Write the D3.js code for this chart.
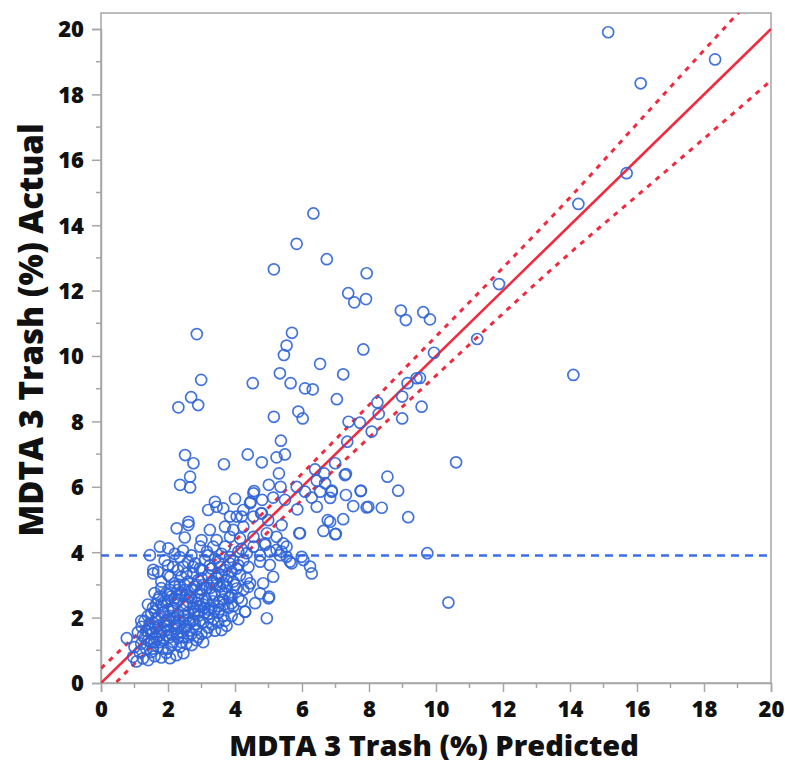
<!DOCTYPE html>
<html>
<head>
<meta charset="utf-8">
<script src="https://cdn.jsdelivr.net/npm/d3@7"></script>
<style>
  body { margin: 0; background: #fff; }
  text { font-family: "Open Sans", "DejaVu Sans", sans-serif; font-weight: 700; fill: #111; }
</style>
</head>
<body>
<script>
// axis ticks
const xTicks = [0, 2, 4, 6, 8, 10, 12, 14, 16, 18, 20];
const yTicks = [0, 2, 4, 6, 8, 10, 12, 14, 16, 18, 20];
const xTitle = "MDTA 3 Trash (%) Predicted";
const yTitle = "MDTA 3 Trash (%) Actual";

// mean of actual (blue dashed line)
const meanActual = 3.9;

// confidence band half width along the fit line
const bandX = [0, 2, 4, 6, 8, 10, 12, 14, 16, 18, 20];
const bandHalf = [0.45, 0.38, 0.35, 0.4, 0.5, 0.6, 0.7, 0.85, 1.1, 1.35, 1.58];

// points far from the dense cluster [predicted, actual]
const outerPoints = [
  [15.14,19.90],[18.33,19.07],[16.11,18.34],[15.69,15.59],[14.25,14.65],[11.88,12.20],
  [9.62,11.34],[9.82,11.12],[11.23,10.52],[9.94,10.10],[14.10,9.42],[9.52,9.33],[9.57,8.45],
  [6.34,14.36],[5.84,13.43],[6.74,12.96],[5.16,12.65],[7.93,12.53],[7.38,11.92],[7.56,11.64],
  [7.91,11.74],[8.95,11.39],[9.10,11.10],[7.83,10.20],[2.86,10.67],[5.70,10.71],[5.54,10.32],
  [5.46,10.03],[6.54,9.76],[7.23,9.44],[2.99,9.27],[4.53,9.17],[5.34,9.47],[5.66,9.17],
  [6.09,9.01],[6.32,8.98],[7.04,8.68],[9.15,9.17],[9.42,9.32],[8.99,8.76],[2.69,8.74],
  [2.31,8.43],[2.90,8.50],[5.16,8.14],[5.89,8.30],[6.02,8.09],[8.25,8.58],[8.29,8.23],
  [8.99,8.09],[7.73,7.96],[7.39,7.99],[8.08,7.69],[7.35,7.38],[5.37,7.41],[10.60,6.75],
  [9.74,3.97],[10.37,2.46],[9.17,5.07],[8.87,5.88],[8.55,6.31],[8.38,5.36],[7.98,5.39],
  [7.53,5.41],[7.75,5.87],[7.31,5.75],[7.31,6.39],[6.99,6.72],[7.23,5.01],[7.01,4.56],
  [6.84,4.93],[6.89,5.85],[6.84,5.66]
];

// mid range points [predicted, actual]
const midPoints = [
  [4.38,6.99],[3.67,6.69],[4.80,6.75],[5.24,6.90],[5.49,6.99],[5.31,6.41],[6.39,6.53],
  [6.66,6.41],[7.28,6.36],[5.01,6.06],[5.36,6.00],[5.84,6.00],[6.09,5.85],[6.44,6.19],
  [6.69,6.11],[4.57,5.87],[4.81,5.60],[5.14,5.67],[3.40,5.54],[4.00,5.63],[4.47,5.54],
  [5.49,5.60],[6.54,5.85],[6.29,5.67],[6.89,5.88],[7.76,5.88],[7.93,5.37],[6.44,5.39],
  [5.86,5.31],[3.20,5.29],[3.65,5.34],[4.25,5.29],[4.55,5.09],[3.85,5.09],[4.05,5.09],
  [4.78,5.19],[4.99,4.98],[5.39,4.83],[5.92,4.58],[6.77,4.98],[6.64,4.65],[6.99,4.55],
  [3.25,4.68],[3.70,4.78],[3.95,4.68],[4.25,4.78],[3.45,4.37],[3.85,4.47],[4.15,4.42],
  [4.55,4.47],[4.95,4.58],[5.24,4.47],[5.44,4.27],[4.90,4.22],[4.55,4.17],[5.64,3.71],
  [5.99,3.86],[6.24,3.56],[6.04,3.76],[6.29,3.35],[5.94,4.58],[5.54,4.17],[4.90,4.27],
  [5.39,4.02],[4.35,3.97],[4.10,4.02],[3.70,4.17],[3.35,4.17],[3.16,4.02],[3.00,4.37],
  [2.51,6.97],[2.76,6.72],[2.66,6.31],[2.36,6.06],[2.66,5.98],[4.55,5.80],[4.45,5.50],
  [2.26,4.73],[2.61,4.83],[2.61,4.93],[3.45,5.39],[4.20,5.09],[4.80,5.19],[2.50,4.45],
  [4.95,1.98],[4.60,2.44],[4.30,2.18],[3.90,2.44],[4.05,2.89],[4.40,2.94],[5.69,3.66]
];

// dense cluster [predicted, actual]
const clusterPoints = [
  [0.96,0.80],[1.06,0.66],[1.25,0.75],[1.41,0.70],[1.60,0.82],[1.80,0.78],[2.06,0.76],[2.25,0.85],
  [2.46,0.91],[1.15,0.95],[1.50,0.95],[1.95,0.92],
  [0.77,1.37],[1.00,1.10],[1.20,1.20],[1.35,1.05],[1.50,1.25],[1.70,1.10],[1.85,1.30],[2.00,1.05],
  [2.15,1.25],[2.36,1.11],[2.55,1.20],[2.71,1.16],[2.85,1.31],[3.05,1.25],[1.30,1.38],[1.65,1.35],
  [2.30,1.38],[2.60,1.40],
  [1.10,1.55],[1.21,1.72],[1.35,1.60],[1.50,1.50],[1.62,1.70],[1.80,1.55],[1.95,1.75],[2.10,1.50],
  [2.25,1.65],[2.40,1.55],[2.55,1.75],[2.70,1.50],[2.85,1.65],[3.00,1.50],[3.20,1.70],[3.40,1.60],
  [3.60,1.62],[3.75,1.75],[1.45,1.80],[2.00,1.62],
  [1.20,1.90],[1.40,2.05],[1.55,1.85],[1.70,2.00],[1.85,2.15],[1.95,1.90],[2.05,2.05],[2.20,1.85],
  [2.30,2.10],[2.45,1.95],[2.60,2.15],[2.75,1.90],[2.90,2.05],[3.05,1.85],[3.20,2.10],[3.35,1.95],
  [3.50,2.15],[3.70,1.90],[3.90,2.05],[4.10,1.95],[4.30,2.18],[1.60,2.20],[2.15,2.20],
  [1.40,2.40],[1.55,2.30],[1.70,2.55],[1.85,2.35],[2.00,2.50],[2.15,2.30],[2.30,2.55],[2.45,2.35],
  [2.60,2.50],[2.75,2.30],[2.90,2.55],[3.05,2.40],[3.20,2.25],[3.35,2.50],[3.50,2.35],[3.65,2.55],
  [3.80,2.30],[4.20,2.50],
  [1.60,2.75],[1.80,2.90],[2.00,2.70],[2.20,2.95],[2.35,2.70],[2.50,2.85],[2.65,2.65],[2.80,2.95],
  [2.95,2.75],[3.10,2.60],[3.25,2.90],[3.40,2.70],[3.55,2.95],[3.70,2.75],[3.85,2.62],[4.75,2.74],
  [5.00,2.59],[5.02,2.64],
  [1.80,3.10],[2.00,3.30],[2.20,3.05],[2.40,3.25],[2.60,3.10],[2.75,3.35],[2.90,3.15],[3.05,3.00],
  [3.20,3.30],[3.35,3.10],[3.50,3.35],[3.65,3.05],[3.80,3.25],[3.95,3.10],[4.15,3.30],[4.45,3.05],
  [4.84,3.05],[5.14,3.25],[1.56,3.35],
  [1.56,3.46],[2.06,3.25],[2.00,3.60],[2.30,3.45],[2.46,3.56],[2.60,3.70],[2.81,3.66],[2.95,3.50],
  [3.10,3.75],[3.30,3.50],[3.50,3.70],[3.70,3.45],[3.85,3.65],[4.05,3.50],[4.25,3.75],[4.40,3.55],
  [4.75,3.71],[5.04,3.61],
  [1.46,3.91],[1.76,4.17],[2.01,4.12],[2.20,3.95],[2.45,4.05],[2.70,3.90],[2.96,4.17],[3.60,3.95],
  [3.85,3.85],[4.75,3.90],[5.04,4.02],[5.34,3.91],[5.54,3.86],[5.24,4.07],
  [1.75,1.45],[1.90,1.60],[2.05,1.40],[2.20,1.75],[2.35,1.90],[2.50,1.65],[2.65,1.85],[2.80,2.20],
  [2.95,2.35],[3.10,2.15],[1.65,1.95],[1.80,2.40],[2.00,2.25],[2.10,2.65],[2.25,2.45],[2.40,2.75],
  [2.55,2.40],[2.70,2.60],[2.85,2.45],[3.00,2.85],[3.15,2.50],[3.30,2.70],[3.45,3.00],[3.60,2.80],
  [3.75,3.15],[3.00,3.45],[3.25,3.60],[2.50,3.00],[2.30,2.85],[1.95,2.75],[1.45,1.65],[1.30,1.90],
  [1.60,1.25],[1.85,1.05],[2.40,1.25],[2.95,1.90],[3.30,2.30],[3.55,2.25],[3.90,2.70],[4.00,3.00],
  [1.55,1.55],[1.70,1.75],[1.88,1.85],[2.02,1.95],[2.18,2.00],[2.32,1.75],[2.48,2.05],[2.62,1.95],
  [2.78,2.10],[2.92,2.20],[3.08,2.30],[3.22,2.00],[3.38,2.20],[3.52,2.50],[3.68,2.40],[3.82,2.60],
  [3.95,2.35],[4.10,2.60],[4.25,2.85],[4.35,3.20],
  [1.50,2.10],[1.65,2.40],[1.75,2.65],[1.90,2.50],[2.05,2.85],[2.20,2.60],[2.35,3.00],[2.55,2.70],
  [2.70,2.85],[2.85,3.00],[3.00,3.20],[3.15,2.90],[3.30,3.05],[3.45,3.20],[3.60,3.30],[3.75,2.95],
  [3.90,3.40],[4.10,3.60],
  [1.25,1.45],[1.40,1.30],[1.55,1.05],[1.75,1.25],[1.95,1.45],[2.10,1.15],[2.28,1.50],[2.45,1.40],
  [2.62,1.60],[2.80,1.80],[2.90,1.40],[3.15,1.55],[3.30,1.80],[3.50,1.85],[3.65,2.05],
  [1.70,3.40],[1.90,3.75],[2.15,3.55],[2.35,3.85],[2.55,3.35],[2.75,3.55],[3.20,3.90],[3.40,3.80],
  [3.55,3.55],[3.95,3.75],[4.20,4.10]
];

const allPoints = outerPoints.concat(midPoints, clusterPoints);

const W = 785, H = 765;
const mLeft = 101, mRight = 771, mTop = 13, mBottom = 683;

const x = d3.scaleLinear().domain([0, 20]).range([mLeft, mRight]);
// 20 sits at y=29, the frame goes a bit above
const y = d3.scaleLinear().domain([0, 20]).range([mBottom, 29]);

const svg = d3.select("body").append("svg")
  .attr("width", W)
  .attr("height", H);

svg.append("defs").append("clipPath").attr("id", "plotClip")
  .append("rect")
  .attr("x", mLeft).attr("y", mTop)
  .attr("width", mRight - mLeft).attr("height", mBottom - mTop);

const gray = "#a6a6a6";

// frame
svg.append("rect")
  .attr("x", mLeft).attr("y", mTop)
  .attr("width", mRight - mLeft).attr("height", mBottom - mTop)
  .attr("fill", "none")
  .attr("stroke", gray)
  .attr("stroke-width", 1.5);

// minor ticks (odd values)
const minor = d3.range(1, 20, 2);
svg.append("g").selectAll("line").data(minor).join("line")
  .attr("x1", d => x(d)).attr("x2", d => x(d))
  .attr("y1", mBottom).attr("y2", mBottom + 5)
  .attr("stroke", gray).attr("stroke-width", 1.5);
svg.append("g").selectAll("line").data(minor).join("line")
  .attr("y1", d => y(d)).attr("y2", d => y(d))
  .attr("x1", mLeft).attr("x2", mLeft - 5)
  .attr("stroke", gray).attr("stroke-width", 1.5);

// x axis
const xAxis = svg.append("g")
  .attr("transform", `translate(0,${mBottom})`)
  .call(d3.axisBottom(x).tickValues(xTicks).tickSize(9).tickPadding(9).tickFormat(d3.format("d")));
// y axis
const yAxis = svg.append("g")
  .attr("transform", `translate(${mLeft},0)`)
  .call(d3.axisLeft(y).tickValues(yTicks).tickSize(9).tickPadding(8).tickFormat(d3.format("d")));

[xAxis, yAxis].forEach(g => {
  g.select(".domain").attr("stroke", gray).attr("stroke-width", 1.5);
  g.selectAll(".tick line").attr("stroke", gray).attr("stroke-width", 1.5);
  g.selectAll(".tick text")
    .attr("fill", "#111")
    .style("font-size", "22px")
    .style("font-family", '"Open Sans", sans-serif')
    .style("font-weight", 800);
});
yAxis.selectAll(".tick text").attr("dy", "0.36em");

const plot = svg.append("g").attr("clip-path", "url(#plotClip)");

// mean line
plot.append("line")
  .attr("x1", x(0)).attr("x2", x(20))
  .attr("y1", y(meanActual)).attr("y2", y(meanActual))
  .attr("stroke", "#3a6fe6")
  .attr("stroke-width", 2.6)
  .attr("stroke-dasharray", "8,6");

const red = "#f12a3e";

// confidence bands
const bandLine = d3.line().x(d => x(d[0])).y(d => y(d[1])).curve(d3.curveMonotoneX);
const upper = bandX.map((v, i) => [v, v + bandHalf[i]]);
const lower = bandX.map((v, i) => [v, v - bandHalf[i]]);
[upper, lower].forEach(b => {
  plot.append("path")
    .attr("d", bandLine(b))
    .attr("fill", "none")
    .attr("stroke", red)
    .attr("stroke-width", 3)
    .attr("stroke-dasharray", "5,6");
});

// fit line
plot.append("line")
  .attr("x1", x(0)).attr("y1", y(0))
  .attr("x2", x(20)).attr("y2", y(20))
  .attr("stroke", red)
  .attr("stroke-width", 2.6);

// points
plot.append("g").selectAll("circle").data(allPoints).join("circle")
  .attr("cx", d => x(d[0]))
  .attr("cy", d => y(d[1]))
  .attr("r", 5.5)
  .attr("fill", "none")
  .attr("stroke", "#2f64d8")
  .attr("stroke-opacity", 0.9)
  .attr("stroke-width", 1.7);

// axis titles
svg.append("text")
  .attr("x", 434)
  .attr("y", 756)
  .attr("text-anchor", "middle")
  .style("font-size", "29px")
  .style("font-weight", 800)
  .text(xTitle);

svg.append("text")
  .attr("transform", `translate(43,330) rotate(-90)`)
  .attr("text-anchor", "middle")
  .style("font-size", "33px")
  .style("font-weight", 800)
  .text(yTitle);
</script>
</body>
</html>
